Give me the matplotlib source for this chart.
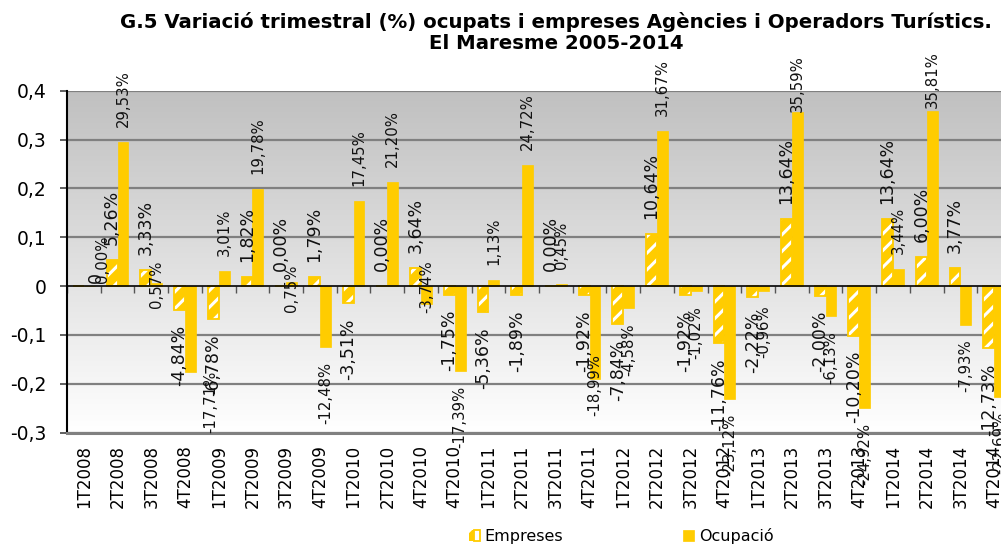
import matplotlib
matplotlib.use("Agg")
import matplotlib.pyplot as plt
import numpy as np
from matplotlib.colors import LinearSegmentedColormap
from matplotlib.patches import Patch
from matplotlib.legend_handler import HandlerTuple

# ---------------- data ----------------
categories = ["1T2008", "2T2008", "3T2008", "4T2008", "1T2009", "2T2009", "3T2009",
              "4T2009", "1T2010", "2T2010", "4T2010", "4T2010", "1T2011", "2T2011",
              "3T2011", "4T2011", "1T2012", "2T2012", "3T2012", "4T2012", "1T2013",
              "2T2013", "3T2013", "4T2013", "1T2014", "2T2014", "3T2014", "4T2014"]

empreses = [0.0, 0.0526, 0.0333, -0.0484, -0.0678, 0.0182, 0.0, 0.0179, -0.0351, 0.0,
            0.0364, -0.0175, -0.0536, -0.0189, 0.0, -0.0192, -0.0784, 0.1064, -0.0192,
            -0.1176, -0.0222, 0.1364, -0.0200, -0.1020, 0.1364, 0.0600, 0.0377, -0.1273]

ocupacio = [0.0, 0.2953, 0.0057, -0.1771, 0.0301, 0.1978, 0.0075, -0.1248, 0.1745, 0.2120,
            -0.0374, -0.1739, 0.0113, 0.2472, 0.0045, -0.1899, -0.0458, 0.3167, -0.0102,
            -0.2312, -0.0096, 0.3559, -0.0613, -0.2492, 0.0344, 0.3581, -0.0793, -0.2269]

series_names = ["Empreses", "Ocupació"]
emp_text_override = {0: "0"}

yticks = [-0.3, -0.2, -0.1, 0.0, 0.1, 0.2, 0.3, 0.4]
title = ("G.5 Variació trimestral (%) ocupats i empreses Agències i Operadors Turístics.\n"
         "El Maresme 2005-2014")

# ---------------- style ----------------
YELLOW = "#FFCC00"
W = 0.32
DEFAULT_GAP = 15  # px between bar end and label
# manual label placement tweaks: (series, index) -> (dx px, dy px from bar end to label edge)
label_adjust = {("E", 0): (17, 3), ("O", 0): (13, 3), ("O", 2): (0, -25),
                ("O", 6): (0, -30), ("O", 10): (0, 44), ("O", 3): (20, 2),
                ("O", 15): (0, 25), ("O", 21): (0, 0), ("O", 25): (0, 3)}

plt.rcParams["font.family"] = ["DejaVu Sans"]
plt.rcParams["hatch.linewidth"] = 2.2

fig = plt.figure(figsize=(10.01, 5.48), dpi=100)
L, R = 67 / 1001, 1011 / 1001
B, T = (548 - 432.5) / 548, (548 - 90.7) / 548
ax = fig.add_axes([L, B, R - L, T - B])

n = len(categories)
x = np.arange(n)
ax.set_xlim(-0.5, n - 0.5)
ax.set_ylim(-0.3, 0.4)

# gradient background
cmap = LinearSegmentedColormap.from_list("bg", ["#c0c0c0", "#ffffff"])
grad = np.linspace(0, 1, 256).reshape(-1, 1)
ax.imshow(grad, cmap=cmap, extent=[-0.5, n - 0.5, -0.3, 0.4], aspect="auto",
          origin="upper", zorder=0, interpolation="bilinear")

# gridlines
for yv in yticks:
    if yv != 0:
        ax.axhline(yv, color="#808080", lw=1.6, zorder=1)

# bars
ax.bar(x - W / 2, empreses, W, color=YELLOW, edgecolor="white", hatch="//",
       linewidth=0, zorder=3)
ax.bar(x - W / 2, empreses, W, fill=False, edgecolor=YELLOW, linewidth=1.3, zorder=4)
ax.bar(x + W / 2, ocupacio, W, color=YELLOW, edgecolor=YELLOW, linewidth=0.5, zorder=3)

ax.axhline(0, color="black", lw=1.2, zorder=5)

# labels
def fmt(v):
    return f"{v * 100:.2f}%".replace(".", ",")

PX = 72 / 100
for key, vals, off, fs in (("E", empreses, -W / 2, 12.5), ("O", ocupacio, W / 2, 10.7)):
    for i, v in enumerate(vals):
        txt = fmt(v)
        if key == "E" and i in emp_text_override:
            txt = emp_text_override[i]
        neg = v < 0
        dx, dy = label_adjust.get((key, i), (0, -DEFAULT_GAP if neg else DEFAULT_GAP))
        ax.annotate(txt, xy=(x[i] + off, v), xytext=(dx * PX, dy * PX),
                    textcoords="offset points", rotation=90, ha="center",
                    va="top" if neg else "bottom", fontsize=fs, color="#111111",
                    zorder=6, annotation_clip=False)

# axes styling
for s in ("top", "right"):
    ax.spines[s].set_visible(False)
ax.spines["left"].set_color("#000000")
ax.spines["left"].set_linewidth(1.5)
ax.spines["bottom"].set_color("#808080")
ax.spines["bottom"].set_linewidth(2.2)

ax.set_yticks(yticks)
ax.set_yticklabels([("0" if t == 0 else f"{t:.1f}".replace(".", ",")) for t in yticks],
                   fontsize=13.5)
ax.tick_params(axis="y", length=5, width=1.2, color="#444444", pad=10)

ax.set_xticks(x)
ax.set_xticklabels(categories, rotation=90, fontsize=12)
ax.tick_params(axis="x", length=0, pad=9)

# category tick marks at the zero line
sec = ax.secondary_xaxis(3 / 7)
sec.set_xticks(np.arange(-0.5, n, 1.0))
sec.tick_params(axis="x", direction="out", length=5, width=1, color="#555555",
                labelbottom=False, labeltop=False)
sec.spines["bottom"].set_visible(False)
sec.spines["top"].set_visible(False)
sec.xaxis.set_ticks_position("bottom")
sec.set_xticklabels([])

# title
fig.text(556 / 1001, 1 - 12 / 548, title, ha="center", va="top", fontsize=14.2,
         fontweight="bold", linespacing=1.15)

# legend
h_emp = (Patch(facecolor=YELLOW, edgecolor="white", hatch="//", linewidth=0),
         Patch(facecolor="none", edgecolor=YELLOW, linewidth=1.3))
h_ocu = Patch(facecolor=YELLOW, edgecolor=YELLOW, linewidth=0.5)
fig.legend([h_emp, h_ocu], series_names, loc="center", ncol=2,
           bbox_to_anchor=(621 / 1001, 12 / 548), frameon=False, fontsize=11.5,
           handlelength=0.7, handleheight=0.7, handletextpad=0.3, columnspacing=7.5,
           handler_map={tuple: HandlerTuple(ndivide=None, pad=0)})

fig.savefig("out.png", dpi=100)
